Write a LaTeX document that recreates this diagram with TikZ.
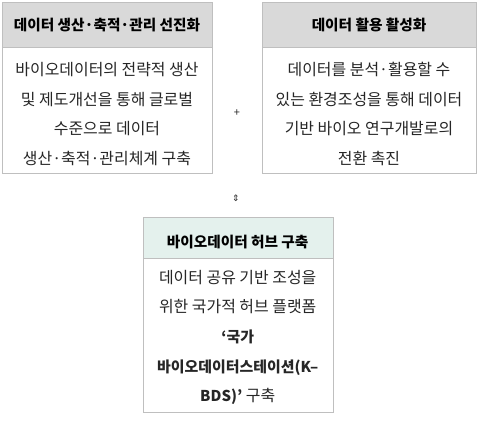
\documentclass[tikz,border=0pt]{standalone}
\usepackage{fontspec}
\setmainfont{Noto Sans CJK KR}
\newfontfamily\symfont{DejaVu Sans}
\definecolor{edge}{HTML}{BFBFBF}
\definecolor{hdrgray}{HTML}{D9D9D9}
\definecolor{hdrmint}{HTML}{E4F1ED}
\definecolor{txt}{HTML}{262626}
\begin{document}
\begin{tikzpicture}[x=1bp,y=-1bp,
  panel/.style={draw=edge, line width=1bp, fill=white, inner sep=0, anchor=north west},
  hdrbox/.style={draw=edge, line width=1bp, inner sep=0, anchor=north west},
  hdrtext/.style={font=\fontsize{14.7}{17}\selectfont\bfseries, text=black, inner sep=0},
  bodytext/.style={font=\fontsize{16}{29.7}\selectfont, text=txt, align=center, inner sep=0},
  symtext/.style={text=txt, inner sep=0}]
\useasboundingbox (0,0) rectangle (478,421);
% left box
\node[panel, minimum width=210bp, minimum height=171bp] (lbox) at (2,2) {};
\node[hdrbox, fill=hdrgray, minimum width=210bp, minimum height=45bp] (lhead) at (2,2) {};
\node[hdrtext] (lhtext) at (107,25) {데이터 생산·축적·관리 선진화};
\node[bodytext] (lbody) at (107,114) {바이오데이터의 전략적 생산\\및 제도개선을 통해 글로벌\\수준으로 데이터\\생산·축적·관리체계 구축};
% right box
\node[panel, minimum width=214bp, minimum height=171bp] (rbox) at (262,2) {};
\node[hdrbox, fill=hdrgray, minimum width=214bp, minimum height=45bp] (rhead) at (262,2) {};
\node[hdrtext] (rhtext) at (369,25) {데이터 활용 활성화};
\node[bodytext] (rbody) at (369,114) {데이터를 분석·활용할 수\\있는 환경조성을 통해 데이터\\기반 바이오 연구개발로의\\전환 촉진};
% plus
\node[symtext, font=\fontsize{11}{13}\selectfont] (plus) at (237,113) {+};
% up-down
\node[symtext, font=\symfont\fontsize{9}{11}\selectfont] (updown) at (236,198) {⇕};
% bottom box
\node[panel, minimum width=190bp, minimum height=195bp] (bbox) at (142.7,217.3) {};
\node[hdrbox, fill=hdrmint, minimum width=190bp, minimum height=41bp] (bhead) at (142.7,217.3) {};
\node[hdrtext] (bhtext) at (237.7,242) {바이오데이터 허브 구축};
\node[bodytext] (bbody) at (237.7,337.5) {데이터 공유 기반 조성을\\위한 국가적 허브 플랫폼\\{\fontsize{15}{29.7}\selectfont\bfseries ‘국가}\\{\fontsize{15}{29.7}\selectfont\bfseries 바이오데이터스테이션(K–}\\{\fontsize{15}{29.7}\selectfont\bfseries BDS)’} 구축};
\end{tikzpicture}
\end{document}
